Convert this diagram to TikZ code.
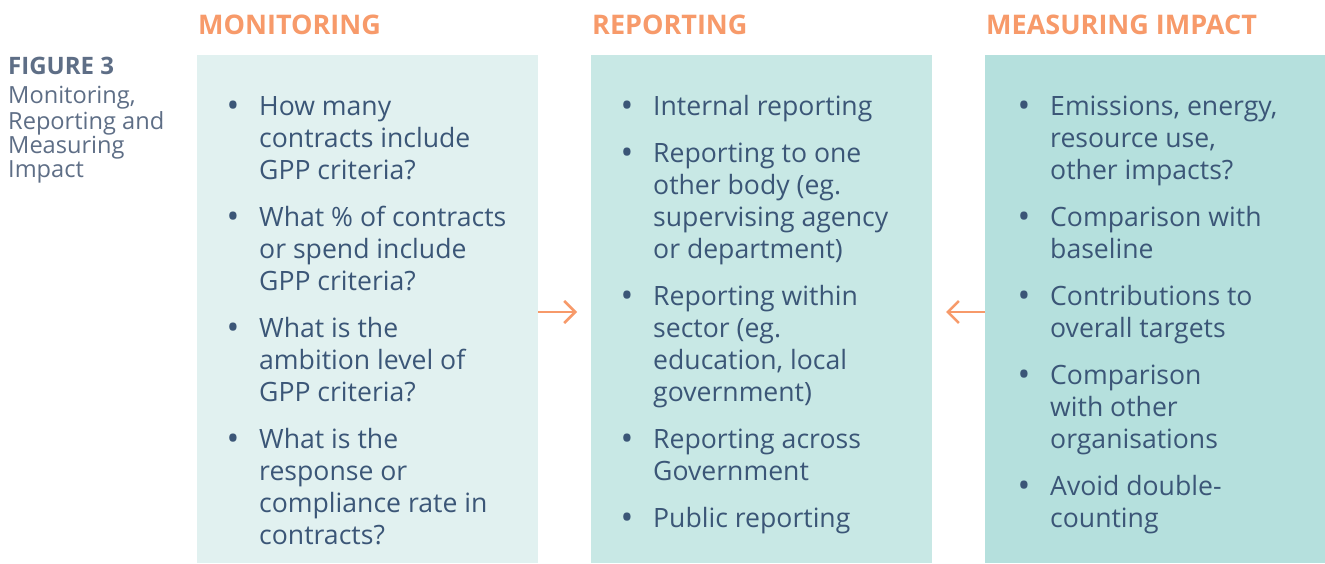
\documentclass[tikz,border=0pt]{standalone}
\usepackage{fontspec}
\setmainfont{Open Sans}
\usetikzlibrary{arrows.meta}
\definecolor{boxA}{HTML}{E1F1F0}
\definecolor{boxB}{HTML}{C8E8E5}
\definecolor{boxC}{HTML}{B5E0DD}
\definecolor{orng}{HTML}{F79A6A}
\definecolor{txt}{HTML}{3B5677}
\definecolor{cap}{HTML}{5E6E86}
\newcommand\gppitem[4]{%
  \node[bul] (#1b) at (#2-26,#3+2.5) {\textbullet};
  \node[itm] (#1) at (#2,#3-22.4) {\strut #4};}
\begin{document}
\begin{tikzpicture}[x=1pt,y=-1pt,
  head/.style={anchor=base west,inner sep=0,text=orng,font=\fontsize{27}{32}\selectfont\bfseries},
  itm/.style={anchor=north west,inner sep=0,align=left,text=txt,font=\fontsize{26.6}{32}\selectfont},
  bul/.style={anchor=base,inner sep=0,text=txt,font=\fontsize{34}{32}\selectfont},
  flow/.style={draw=orng,line width=2.5pt,-{Straight Barb[length=11pt,width=22pt]}}]
\useasboundingbox (0,0) rectangle (1325,563);
\fill[white] (0,0) rectangle (1325,563);
% panels
\fill[boxA] (197,55) rectangle (538,563);
\fill[boxB] (591,55) rectangle (932,563);
\fill[boxC] (985,55) rectangle (1325,563);
\coordinate (pA) at (538,312);
\coordinate (pB1) at (591,312);
\coordinate (pB2) at (932,312);
\coordinate (pC) at (985,312);
% headings
\node[head] (hmon) at (198,34) {MONITORING};
\node[head] (hrep) at (592,34) {REPORTING};
\node[head] (hmea) at (986,34) {MEASURING IMPACT};
% figure caption
\node[anchor=base west,inner sep=0,text=cap,font=\fontsize{24}{24}\selectfont\bfseries] (fig) at (8,74) {FIGURE 3};
\node[anchor=north west,inner sep=0,align=left,text=cap,font=\fontsize{23.6}{24}\selectfont] (figcap) at (8,86.2) {\strut Monitoring,\\Reporting and\\Measuring\\Impact};
% monitoring
\gppitem{m1}{259}{115}{How many\\contracts include\\GPP criteria?}
\gppitem{m2}{259}{226}{What \% of contracts\\or spend include\\GPP criteria?}
\gppitem{m3}{259}{337}{What is the\\ambition level of\\GPP criteria?}
\gppitem{m4}{259}{448}{What is the\\response or\\compliance rate in\\contracts?}
% reporting
\gppitem{r1}{653}{115}{Internal reporting}
\gppitem{r2}{653}{162}{Reporting to one\\other body (eg.\\supervising agency\\or department)}
\gppitem{r3}{653}{305}{Reporting within\\sector (eg.\\education, local\\government)}
\gppitem{r4}{653}{448}{Reporting across\\Government}
\gppitem{r5}{653}{527}{Public reporting}
% measuring impact
\gppitem{i1}{1050}{115}{Emissions, energy,\\resource use,\\other impacts?}
\gppitem{i2}{1050}{226}{Comparison with\\baseline}
\gppitem{i3}{1050}{305}{Contributions to\\overall targets}
\gppitem{i4}{1050}{384}{Comparison\\with other\\organisations}
\gppitem{i5}{1050}{495}{Avoid double-\\counting}
% arrows
\draw[flow] (pA) -- ([xshift=-14pt]pB1);
\draw[flow] (pC) -- ([xshift=14pt]pB2);
\end{tikzpicture}
\end{document}
